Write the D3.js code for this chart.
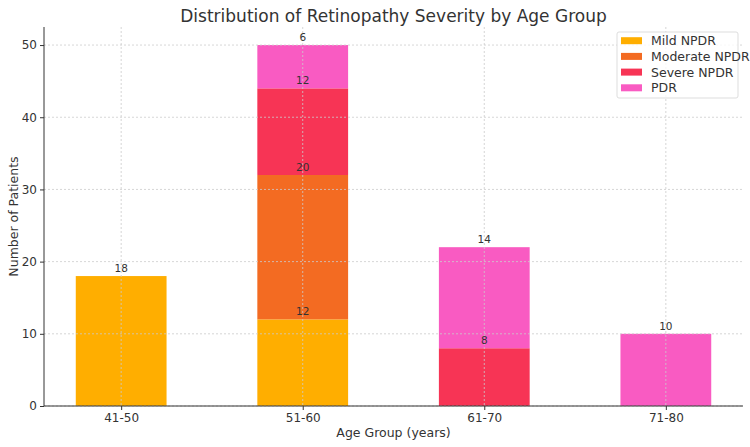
<!DOCTYPE html>
<html>
<head>
<meta charset="utf-8">
<script src="https://cdn.jsdelivr.net/npm/d3@7"></script>
<style>
  body { margin: 0; background: #fff; }
  svg { display: block; font-family: "DejaVu Sans", sans-serif; }
  .grid line { stroke: #ccc; stroke-dasharray: 2,2; stroke-width: 0.8; }
</style>
</head>
<body>
<svg></svg>
<script>
const ageGroups = ["41-50", "51-60", "61-70", "71-80"];
const severities = ["Mild NPDR", "Moderate NPDR", "Severe NPDR", "PDR"];
const mild = [18, 12, 0, 0];
const moderate = [0, 20, 0, 0];
const severe = [0, 12, 8, 0];
const pdr = [0, 6, 14, 10];
const colors = ["#FFAE00", "#F36B22", "#F73455", "#F95BC2"];
const yTicks = [0, 10, 20, 30, 40, 50];

const width = 750;
const height = 447;
const margin = { top: 27, right: 7, bottom: 41, left: 44 };
const innerWidth = width - margin.left - margin.right;
const innerHeight = height - margin.top - margin.bottom;

const series = [mild, moderate, severe, pdr];
const table = ageGroups.map((g, i) => {
  const row = { group: g };
  severities.forEach((s, j) => (row[s] = series[j][i]));
  return row;
});
const stacked = d3.stack().keys(severities)(table);

const svg = d3.select("svg").attr("width", width).attr("height", height);

// categories sit at 0..3 with matplotlib-ish margins
const xScale = d3.scaleLinear().domain([-0.425, 3.425]).range([0, innerWidth]);
const yScale = d3.scaleLinear().domain([0, 52.5]).range([innerHeight, 0]);
const barW = xScale(0.5) - xScale(0);

const g = svg.append("g").attr("transform", `translate(${margin.left},${margin.top})`);

// bars
stacked.forEach((layer, j) => {
  g.append("g")
    .attr("fill", colors[j])
    .selectAll("rect")
    .data(layer)
    .enter()
    .append("rect")
    .attr("x", (d, i) => xScale(i) - barW / 2)
    .attr("width", barW)
    .attr("y", (d) => yScale(d[1]))
    .attr("height", (d) => yScale(d[0]) - yScale(d[1]));
});

// grid over the bars
const grid = g.append("g").attr("class", "grid");
grid.selectAll(".h").data(yTicks).enter().append("line")
  .attr("x1", 0).attr("x2", innerWidth)
  .attr("y1", (d) => yScale(d)).attr("y2", (d) => yScale(d));
grid.selectAll(".v").data(ageGroups).enter().append("line")
  .attr("x1", (d, i) => xScale(i)).attr("x2", (d, i) => xScale(i))
  .attr("y1", 0).attr("y2", innerHeight);

// value labels
stacked.forEach((layer) => {
  g.append("g")
    .selectAll("text")
    .data(layer.map((d, i) => ({ d, i })).filter((o) => o.d[1] - o.d[0] > 0))
    .enter()
    .append("text")
    .attr("x", (o) => xScale(o.i))
    .attr("y", (o) => yScale(o.d[1]) - 4)
    .attr("text-anchor", "middle")
    .attr("font-size", 10.5)
    .attr("fill", "#333")
    .text((o) => o.d[1] - o.d[0]);
});

// axes
const yAxis = d3.axisLeft(yScale).tickValues(yTicks).tickSize(4).tickPadding(3);
const yAxisG = g.append("g").call(yAxis);
yAxisG.attr("font-size", 12).attr("font-family", null);
yAxisG.select(".domain").attr("stroke", "#333").attr("d", `M0,${innerHeight}V0`);
yAxisG.selectAll(".tick line").attr("stroke", "#333");
yAxisG.selectAll(".tick text").attr("fill", "#333");

const xAxis = d3.axisBottom(xScale)
  .tickValues(d3.range(ageGroups.length))
  .tickFormat((i) => ageGroups[i])
  .tickSize(4)
  .tickPadding(3);
const xAxisG = g.append("g").attr("transform", `translate(0,${innerHeight})`).call(xAxis);
xAxisG.attr("font-size", 12).attr("font-family", null);
xAxisG.select(".domain").attr("stroke", "#333").attr("d", `M0,0H${innerWidth}`);
xAxisG.selectAll(".tick line").attr("stroke", "#333");
xAxisG.selectAll(".tick text").attr("fill", "#333");

// labels
svg.append("text")
  .attr("x", margin.left + innerWidth / 2)
  .attr("y", 22)
  .attr("text-anchor", "middle")
  .attr("font-size", 17)
  .attr("fill", "#333")
  .text("Distribution of Retinopathy Severity by Age Group");

svg.append("text")
  .attr("x", margin.left + innerWidth / 2)
  .attr("y", 437)
  .attr("text-anchor", "middle")
  .attr("font-size", 12.5)
  .attr("fill", "#333")
  .text("Age Group (years)");

svg.append("text")
  .attr("transform", `translate(18,${margin.top + innerHeight / 2}) rotate(-90)`)
  .attr("text-anchor", "middle")
  .attr("font-size", 12.5)
  .attr("fill", "#333")
  .text("Number of Patients");

// legend
const legend = svg.append("g").attr("transform", "translate(617,32)");
legend.append("rect")
  .attr("width", 121).attr("height", 66)
  .attr("rx", 2)
  .attr("fill", "#fff").attr("fill-opacity", 0.8)
  .attr("stroke", "#ddd");
severities.forEach((s, j) => {
  const row = legend.append("g").attr("transform", `translate(4,${8.7 + j * 15.7})`);
  row.append("rect").attr("width", 21).attr("height", 7).attr("y", -3.5).attr("fill", colors[j]);
  row.append("text").attr("x", 30).attr("y", 4.5).attr("font-size", 12.5).attr("fill", "#333").text(s);
});
</script>
</body>
</html>
